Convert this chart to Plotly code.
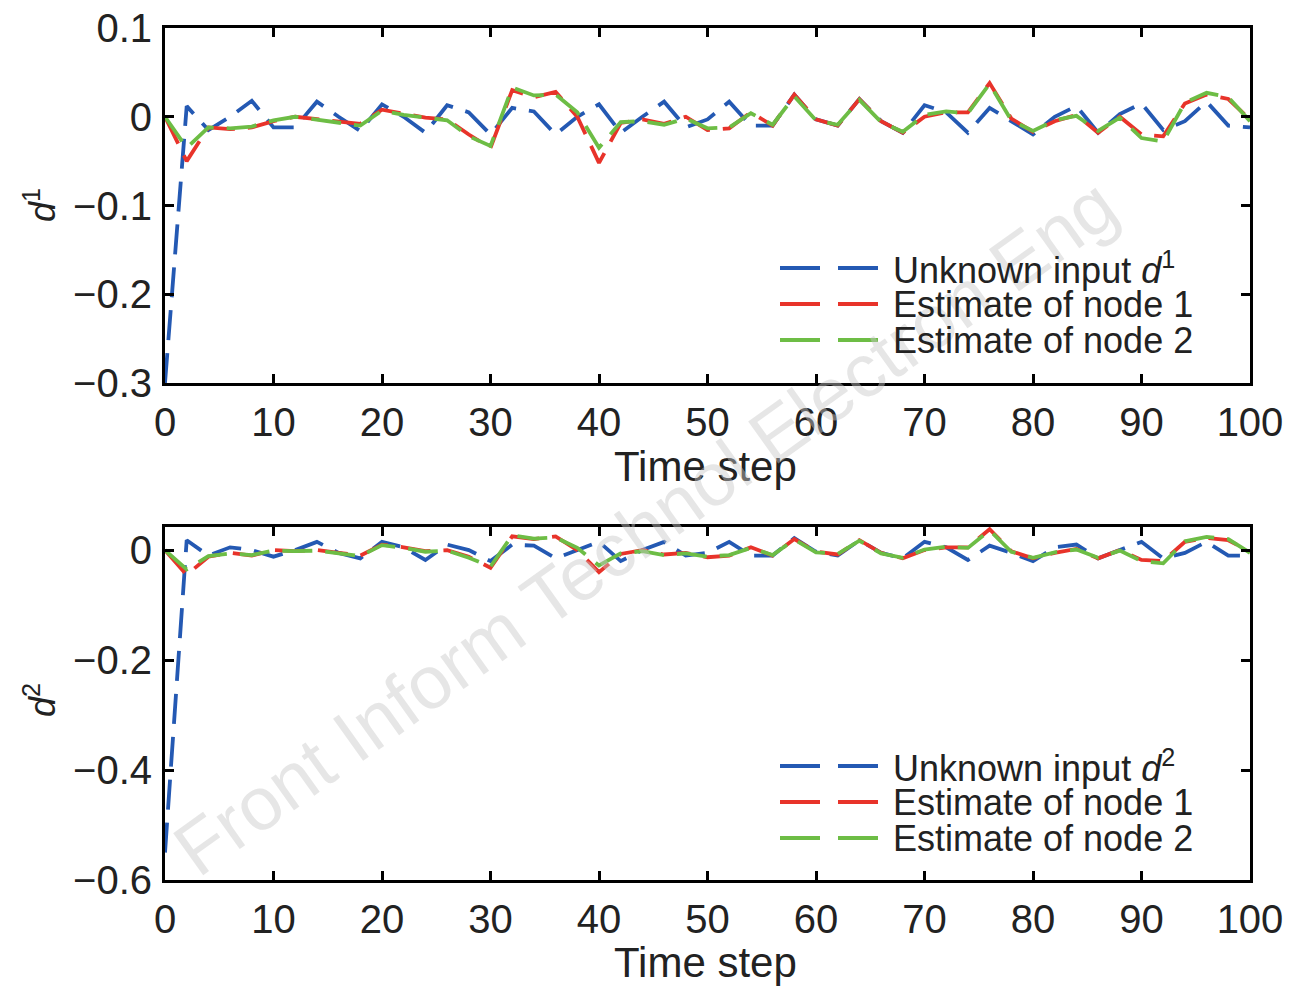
import plotly.graph_objects as go

# time axis (samples every 2 steps)
t = list(range(0, 101, 2))

# subplot 1: d^1
d1_true = [-0.30, 0.012, -0.015, 0.0, 0.018, -0.012, -0.012, 0.017, 0.0, -0.016,
           0.014, 0.0, -0.018, 0.013, 0.005, -0.02, 0.01, 0.006, -0.02, 0.0,
           0.014, -0.018, 0.0, 0.017, -0.012, -0.003, 0.017, -0.01, -0.01, 0.025,
           -0.003, -0.01, 0.02, -0.005, -0.018, 0.013, 0.005, -0.018, 0.01, -0.005,
           -0.02, 0.0, 0.012, -0.018, 0.003, 0.015, -0.015, -0.005, 0.017, -0.01,
           -0.012]
d1_node1 = [0.0, -0.05, -0.012, -0.014, -0.012, -0.005, 0.0, -0.003, -0.005, -0.008,
            0.008, 0.003, -0.001, -0.003, -0.02, -0.035, 0.03, 0.022, 0.028, 0.0,
            -0.052, -0.007, -0.003, -0.008, 0.0, -0.015, -0.013, 0.005, -0.01, 0.025,
            -0.003, -0.01, 0.02, -0.005, -0.018, 0.0, 0.005, 0.005, 0.038, -0.002,
            -0.017, -0.005, 0.002, -0.018, 0.0, -0.02, -0.022, 0.015, 0.025, 0.02,
            -0.003]
d1_node2 = [0.0, -0.035, -0.012, -0.013, -0.011, -0.004, 0.0, -0.003, -0.006, -0.01,
            0.007, 0.002, -0.001, -0.004, -0.022, -0.033, 0.033, 0.024, 0.025, 0.005,
            -0.035, -0.006, -0.005, -0.009, -0.002, -0.013, -0.012, 0.004, -0.009, 0.023,
            -0.004, -0.009, 0.019, -0.006, -0.017, 0.002, 0.006, 0.004, 0.037, -0.004,
            -0.016, -0.004, 0.001, -0.016, -0.001, -0.024, -0.028, 0.016, 0.027, 0.022,
            -0.005]

# subplot 2: d^2
d2_true = [-0.55, 0.018, -0.01, 0.005, 0.0, -0.012, 0.0, 0.015, -0.005, -0.015,
           0.015, 0.005, -0.018, 0.01, 0.0, -0.02, 0.01, 0.008, -0.015, 0.0,
           0.015, -0.02, 0.0, 0.015, -0.01, -0.005, 0.015, -0.01, -0.01, 0.022,
           -0.003, -0.01, 0.018, -0.005, -0.015, 0.015, 0.005, -0.018, 0.008, -0.005,
           -0.02, 0.005, 0.01, -0.015, 0.0, 0.015, -0.015, -0.005, 0.015, -0.01,
           -0.01]
d2_node1 = [0.0, -0.045, -0.012, -0.005, -0.01, 0.0, -0.002, 0.0, -0.005, -0.01,
            0.01, 0.005, -0.002, 0.0, -0.012, -0.032, 0.025, 0.02, 0.025, 0.0,
            -0.04, -0.007, 0.0, -0.008, -0.005, -0.013, -0.01, 0.005, -0.01, 0.02,
            -0.003, -0.008, 0.018, -0.005, -0.015, 0.0, 0.005, 0.005, 0.038, -0.002,
            -0.015, -0.005, 0.002, -0.015, 0.0, -0.018, -0.02, 0.015, 0.022, 0.018,
            -0.003]
d2_node2 = [0.0, -0.035, -0.011, -0.006, -0.009, -0.001, -0.002, -0.001, -0.006, -0.011,
            0.009, 0.004, -0.003, -0.001, -0.014, -0.03, 0.027, 0.021, 0.023, 0.004,
            -0.028, -0.006, -0.002, -0.009, -0.006, -0.012, -0.009, 0.004, -0.009, 0.019,
            -0.004, -0.007, 0.017, -0.006, -0.014, 0.001, 0.006, 0.004, 0.036, -0.003,
            -0.014, -0.004, 0.001, -0.014, -0.001, -0.02, -0.024, 0.016, 0.024, 0.02,
            -0.005]

# tick positions
x_ticks = list(range(0, 101, 10))
y1_ticks = [-0.3, -0.2, -0.1, 0, 0.1]
y2_ticks = [-0.6, -0.4, -0.2, 0]

BLUE = "#2459b3"
RED = "#e8332a"
GREEN = "#6dbd45"
DASH = "30px,13px"
FONT = "Liberation Sans, Arial, sans-serif"

W, H = 1291, 987
OFF = 8  # page body margin shifts the plot by 8px


def px(x):
    return (x - OFF) / W


def py(y):
    return 1 - (y - OFF) / H


fig = go.Figure()

for ys, col, ax in [(d1_true, BLUE, 1), (d1_node1, RED, 1), (d1_node2, GREEN, 1),
                    (d2_true, BLUE, 2), (d2_node1, RED, 2), (d2_node2, GREEN, 2)]:
    fig.add_trace(go.Scatter(
        x=t, y=ys, mode="lines",
        line=dict(color=col, width=3.8, dash=DASH),
        xaxis="x" if ax == 1 else "x2",
        yaxis="y" if ax == 1 else "y2",
        showlegend=False,
    ))

xdom = [px(165), px(1250)]
ydom1 = [py(383), py(28)]
ydom2 = [py(880), py(527)]

axis_common = dict(
    showline=True, linecolor="black", linewidth=3, mirror="ticks",
    ticks="inside", ticklen=9, tickwidth=3, tickcolor="black",
    showgrid=False, zeroline=False, automargin=False,
    tickfont=dict(family=FONT, size=40, color="#222"),
    ticklabelstandoff=2, tickmode="array", ticklabeloverflow="allow",
)

fig.update_layout(
    width=W, height=H,
    margin=dict(l=0, r=0, t=0, b=0),
    paper_bgcolor="white", plot_bgcolor="white",
    font=dict(family=FONT, color="#222"),
    xaxis=dict(domain=xdom, anchor="y", range=[0, 100.0001], tickvals=x_ticks, **axis_common),
    yaxis=dict(domain=ydom1, anchor="x", range=[-0.30001, 0.10001], tickvals=y1_ticks,
               **axis_common),
    xaxis2=dict(domain=xdom, anchor="y2", range=[0, 100.0001], tickvals=x_ticks, **axis_common),
    yaxis2=dict(domain=ydom2, anchor="x2", range=[-0.60001, 0.042], tickvals=y2_ticks,
                **axis_common),
)

ann = []
# axis titles
for yc in [467, 962]:
    ann.append(dict(text="Time step", x=px(705), y=py(yc), xref="paper", yref="paper",
                    showarrow=False, font=dict(size=42, family=FONT, color="#222"),
                    xanchor="center", yanchor="middle"))
for lab, yc in [("<i>d</i><sup>1</sup>", 205), ("<i>d</i><sup>2</sup>", 700)]:
    ann.append(dict(text=lab, x=px(40), y=py(yc), xref="paper", yref="paper",
                    showarrow=False, textangle=-90, xanchor="center", yanchor="middle",
                    font=dict(size=36, family=FONT, color="#222")))

# watermark
ann.append(dict(text="Front Inform Technol Electron Eng", x=px(645), y=py(527),
                xref="paper", yref="paper", showarrow=False, textangle=-35.6,
                xanchor="center", yanchor="middle",
                font=dict(size=75, family=FONT, color="rgba(200,200,200,0.45)")))

# legends (drawn by hand so sample lines are long like the original)
shapes = []
leg_labels = [
    ["Unknown input <i>d</i><sup>1</sup>", "Estimate of node 1", "Estimate of node 2"],
    ["Unknown input <i>d</i><sup>2</sup>", "Estimate of node 1", "Estimate of node 2"],
]
leg_rows = [[268, 304, 340], [766, 802, 838]]
for labels, rows in zip(leg_labels, leg_rows):
    for lab, yc, col in zip(labels, rows, [BLUE, RED, GREEN]):
        shapes.append(dict(type="line", xref="paper", yref="paper",
                           x0=px(780), x1=px(880), y0=py(yc), y1=py(yc),
                           line=dict(color=col, width=3.8, dash="40px,18px")))
        ann.append(dict(text=lab, x=px(891), y=py(yc), xref="paper", yref="paper",
                        showarrow=False, xanchor="left", yanchor="middle",
                        font=dict(size=36, family=FONT, color="#222")))

fig.update_layout(annotations=ann, shapes=shapes)

fig.write_html("out.html")
